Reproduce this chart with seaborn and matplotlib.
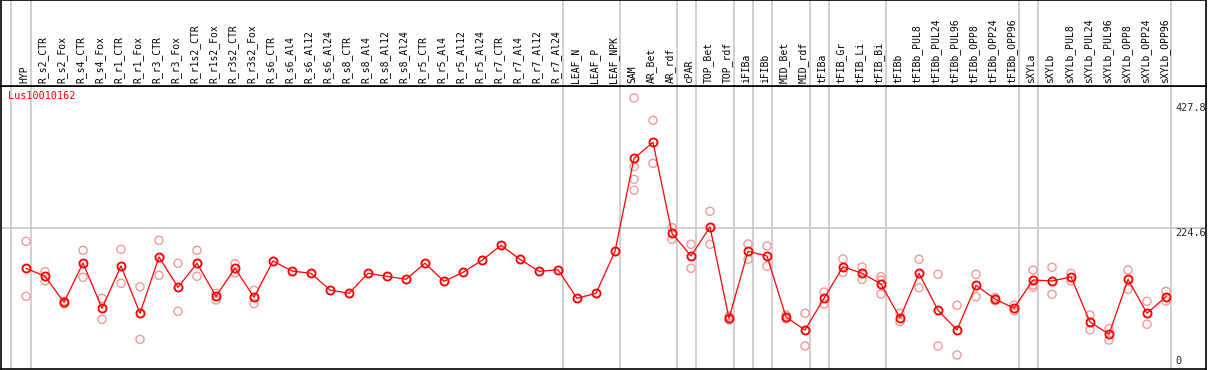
import numpy as np
import pandas as pd
import matplotlib
matplotlib.use("Agg")
import matplotlib.pyplot as plt
import seaborn as sns

# ---------------- data ----------------
categories = [
    "HYP", "R_s2_CTR", "R_s2_Fox", "R_s4_CTR", "R_s4_Fox", "R_r1_CTR", "R_r1_Fox",
    "R_r3_CTR", "R_r3_Fox", "R_r1s2_CTR", "R_r1s2_Fox", "R_r3s2_CTR", "R_r3s2_Fox",
    "R_s6_CTR", "R_s6_Al4", "R_s6_Al12", "R_s6_Al24", "R_s8_CTR", "R_s8_Al4",
    "R_s8_Al12", "R_s8_Al24", "R_r5_CTR", "R_r5_Al4", "R_r5_Al12", "R_r5_Al24",
    "R_r7_CTR", "R_r7_Al4", "R_r7_Al12", "R_r7_Al24", "LEAF_N", "LEAF_P", "LEAF_NPK",
    "SAM", "AR_Bet", "AR_rdf", "cPAR", "TOP_Bet", "TOP_rdf", "iFIBa", "iFIBb",
    "MID_Bet", "MID_rdf", "tFIBa", "tFIB_Gr", "tFIB_Li", "tFIB_Bi", "tFIBb",
    "tFIBb_PUL8", "tFIBb_PUL24", "tFIBb_PUL96", "tFIBb_OPP8", "tFIBb_OPP24",
    "tFIBb_OPP96", "sXYLa", "sXYLb", "sXYLb_PUL8", "sXYLb_PUL24", "sXYLb_PUL96",
    "sXYLb_OPP8", "sXYLb_OPP24", "sXYLb_OPP96",
]

mean_values = [
    160.0, 147.1, 105.4, 168.5, 95.8, 163.7, 87.8,
    178.1, 129.5, 168.0, 115.0, 160.0, 113.4,
    171.7, 155.6, 151.9, 125.1, 119.8, 151.9,
    147.1, 142.3, 168.0, 139.1, 153.5, 172.8,
    196.9, 174.4, 155.1, 157.7, 111.8, 119.8, 187.2,
    336.4, 362.1, 216.1, 179.7, 226.2, 79.7, 187.2, 179.7,
    81.8, 61.0, 111.8, 162.5, 151.9, 134.8, 80.2,
    151.9, 92.6, 61.0, 132.7, 110.7,
    95.8, 141.2, 139.6, 146.0, 73.8, 54.1,
    142.3, 87.8, 114.4,
]

replicates = [
    [203.3, 115.0], [154.5, 139.6], [107.0, 103.0], [188.8, 145.5], [111.8, 78.1],
    [190.4, 135.9], [130.4, 46.0], [204.9, 148.7], [168.0, 91.0], [188.8, 147.1],
    [119.8, 109.1], [167.3, 152.4], [124.7, 103.2],
    [], [], [], [], [], [], [], [], [], [], [], [], [], [], [], [], [], [], [],
    [433.2, 323.0, 302.8, 285.1], [397.4, 328.4], [225.1, 206.5], [198.5, 160.0],
    [251.4, 198.5], [83.4, 77.0], [198.9, 174.4], [195.7, 163.2],
    [85.0, 78.6], [87.8, 35.3], [121.9, 102.7], [174.9, 153.5], [162.0, 142.3],
    [146.5, 141.2, 118.7], [87.8, 74.3],
    [174.4, 128.8], [150.3, 35.3], [100.6, 20.9], [150.3, 114.4], [113.4, 108.0],
    [100.6, 91.9], [157.2, 133.2, 129.5], [161.6, 118.2], [151.9, 139.6],
    [85.0, 61.4], [63.1, 44.9], [157.2, 126.3], [107.0, 70.1], [123.1, 107.5],
]

group_ends = [0, 28, 31, 34, 35, 37, 38, 39, 41, 42, 45, 52, 53, 60]
gene_name = "Lus10010162"
axis_labels = ["427.8", "224.6", "0"]
grid_value = 224.6

# ---------------- frames ----------------
idx = np.arange(len(categories))
mean_df = pd.DataFrame({"x": idx, "value": mean_values})
rep_x, rep_y = [], []
for i, reps in enumerate(replicates):
    for v in reps:
        rep_x.append(i)
        rep_y.append(v)
rep_df = pd.DataFrame({"x": rep_x, "value": rep_y})

# ---------------- style ----------------
sns.set_style("white")
plt.rcParams["font.family"] = ["DejaVu Sans Mono", "DejaVu Sans"]

W, H = 1209, 370
fig = plt.figure(figsize=(W / 100, H / 100), dpi=100)

def px_to_i(px):
    return (px - 26) / 19.0

x_left, x_right = px_to_i(1), px_to_i(1206)
scale = 140.0 / 224.6  # px per unit
y_bottom = (368 - 369) / scale
y_top = (368 - 85.5) / scale

ax = fig.add_axes([1 / W, 1 - 369 / H, 1205 / W, (369 - 85.5) / H])
ax_lab = fig.add_axes([1 / W, 1 - 85.5 / H, 1205 / W, 85.5 / H], sharex=ax)

grid_c = "#c4c4c4"
red = "#ff0000"
pink = "#f09a9a"

for a in (ax, ax_lab):
    for s in a.spines.values():
        s.set_color("black")
        s.set_linewidth(1.2)
    a.set_xticks([])
    a.set_yticks([])
    a.set_xlabel("")
    a.set_ylabel("")
    a.axvline(px_to_i(11), color=grid_c, lw=1.1, zorder=0)
    for g in group_ends:
        a.axvline(g + 0.25, color=grid_c, lw=1.1, zorder=0)

ax.axhline(grid_value, color=grid_c, lw=1.1, zorder=0)

sns.scatterplot(data=rep_df, x="x", y="value", ax=ax, marker="o", s=34,
                facecolors="none", edgecolor=pink, linewidth=1.0, zorder=2,
                legend=False)
sns.lineplot(data=mean_df, x="x", y="value", ax=ax, color=red, lw=0.9,
             marker="o", markersize=5.8, markerfacecolor="none",
             markeredgecolor=red, markeredgewidth=1.35, zorder=3, legend=False)

ax.set_xlim(x_left, x_right)
ax.set_ylim(y_bottom, y_top)
ax.set_xticks([])
ax.set_yticks([])
ax.set_xlabel("")
ax.set_ylabel("")
ax_lab.set_ylim(0, 1)

for i, name in enumerate(categories):
    ax_lab.text(i - 0.1, 0.03, name, rotation=90, ha="center", va="bottom",
                fontsize=7, color="black")

ax.text(px_to_i(8), (368 - 91) / scale, gene_name, color=red, fontsize=7.3,
        ha="left", va="top")

lab_x = px_to_i(1175)
ax.text(lab_x, (368 - 103) / scale, axis_labels[0], fontsize=7.4, ha="left", va="top")
ax.text(lab_x, grid_value, axis_labels[1], fontsize=7.4, ha="left", va="top")
ax.text(lab_x, (368 - 366) / scale, axis_labels[2], fontsize=7.4, ha="left", va="bottom")

fig.savefig("out.png", dpi=100)
